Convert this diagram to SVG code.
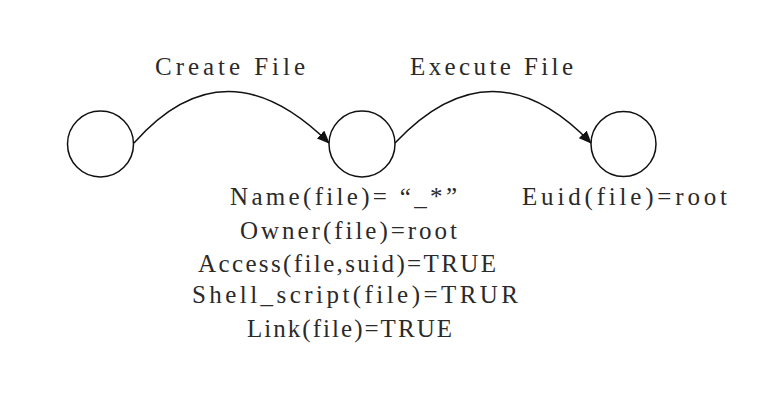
<svg xmlns="http://www.w3.org/2000/svg" width="763" height="410" viewBox="0 0 763 410">
<defs>
<style>
.node{fill:#fff;stroke:#111;stroke-width:1.5}
.edge{fill:none;stroke:#111;stroke-width:1.5}
.t{font-family:"Liberation Serif","Times New Roman",serif;font-size:25px;fill:#2a2a2a}
</style>
<marker id="ah" markerUnits="userSpaceOnUse" markerWidth="13" markerHeight="11" refX="12" refY="5.5" orient="auto">
<path d="M0,0 L13,5.5 L0,11 z" fill="#111"/>
</marker>
</defs>
<rect width="763" height="410" fill="#fff"/>
<g id="connectors">
<path class="edge" d="M134,143 Q225,40 329,143" marker-end="url(#ah)"/>
<path class="edge" d="M395,143 Q492,40 591,143" marker-end="url(#ah)"/>
<text class="t" x="155" y="75" textLength="150" lengthAdjust="spacing">Create File</text>
<text class="t" x="410" y="75" textLength="163" lengthAdjust="spacing">Execute File</text>
</g>
<g id="s0"><circle class="node" cx="100.5" cy="144" r="33"/></g>
<g id="s1"><circle class="node" cx="362" cy="144" r="33"/>
<text class="t" x="230" y="205" textLength="227" lengthAdjust="spacing">Name(file)= “_*”</text>
<text class="t" x="240" y="239" textLength="217" lengthAdjust="spacing">Owner(file)=root</text>
<text class="t" x="198" y="272" textLength="298" lengthAdjust="spacing">Access(file,suid)=TRUE</text>
<text class="t" x="192" y="303" textLength="326" lengthAdjust="spacing">Shell_script(file)=TRUR</text>
<text class="t" x="247" y="337" textLength="205" lengthAdjust="spacing">Link(file)=TRUE</text>
</g>
<g id="s2"><circle class="node" cx="623.5" cy="144" r="32.5"/>
<text class="t" x="522" y="205" textLength="205" lengthAdjust="spacing">Euid(file)=root</text>
</g>
</svg>
